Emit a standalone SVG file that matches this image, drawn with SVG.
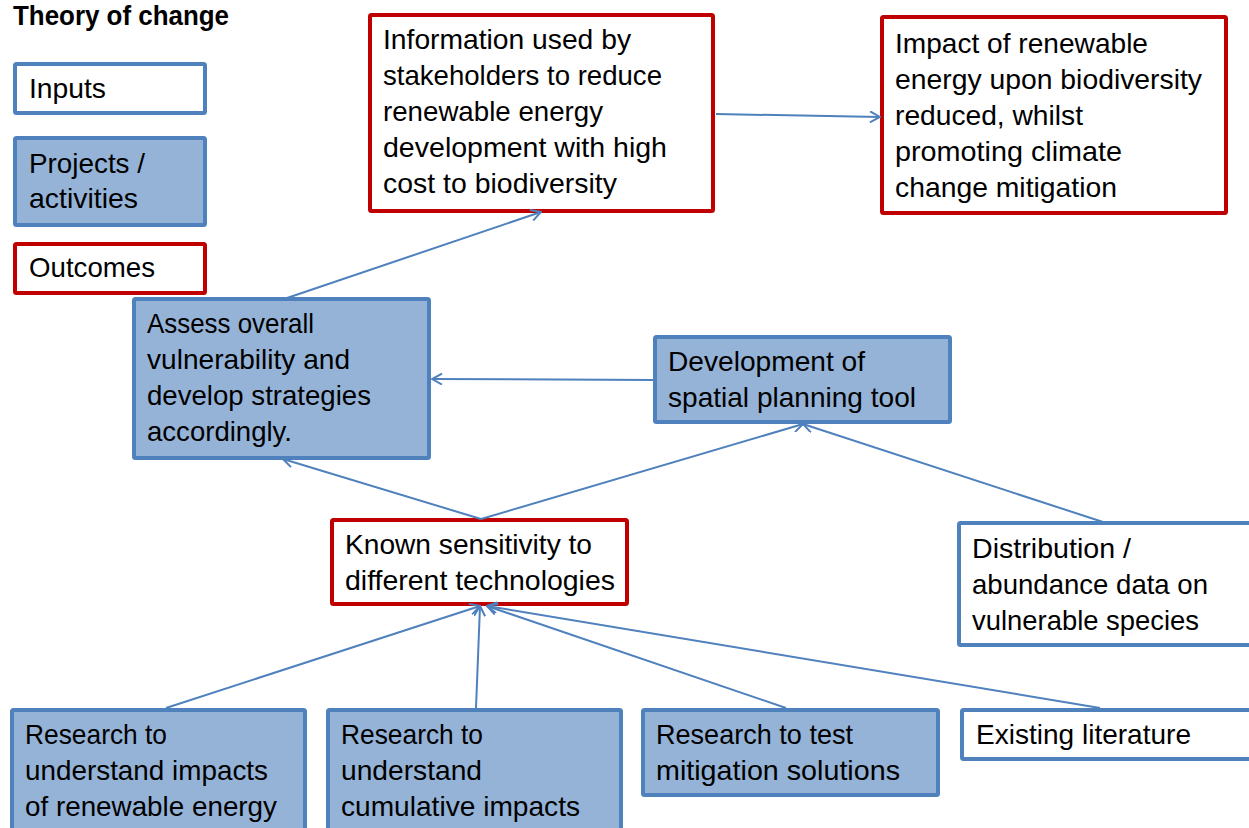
<svg xmlns="http://www.w3.org/2000/svg" width="1249" height="828" viewBox="0 0 1249 828">
<style>
.t{font-family:"Liberation Sans",Arial,sans-serif;font-size:28px;fill:#000}
.title{font-family:"Liberation Sans",Arial,sans-serif;font-size:27px;font-weight:bold;fill:#000}
.in{fill:#fff;stroke:#4F81BD;stroke-width:4}
.act{fill:#95B3D7;stroke:#4F81BD;stroke-width:4}
.out{fill:#fff;stroke:#C00000;stroke-width:4}
.c{fill:none;stroke:#4F81BD;stroke-width:2}
</style>
<defs>
<marker id="ah" viewBox="0 0 12 12" refX="11" refY="6" markerWidth="12" markerHeight="12" markerUnits="userSpaceOnUse" orient="auto">
<path d="M1,0.5 L11,6 L1,11.5" fill="none" stroke="#4F81BD" stroke-width="2"/>
</marker>
</defs>
<rect width="1249" height="828" fill="#fff"/>
<text class="title" x="13" y="25" textLength="216" lengthAdjust="spacingAndGlyphs">Theory of change</text>

<g id="legend-inputs">
<rect class="in" x="15" y="64" width="190" height="49" rx="1.5"/>
<text class="t" x="29" y="98" textLength="77" lengthAdjust="spacingAndGlyphs">Inputs</text>
</g>
<g id="legend-activities">
<rect class="act" x="15" y="138" width="190" height="87" rx="1.5"/>
<text class="t" x="29" y="173" textLength="116" lengthAdjust="spacingAndGlyphs">Projects /</text>
<text class="t" x="29" y="208" textLength="109" lengthAdjust="spacingAndGlyphs">activities</text>
</g>
<g id="legend-outcomes">
<rect class="out" x="15" y="244" width="190" height="49" rx="1.5"/>
<text class="t" x="29" y="277" textLength="126" lengthAdjust="spacingAndGlyphs">Outcomes</text>
</g>

<g id="info">
<rect class="out" x="370" y="15" width="343" height="196" rx="1.5"/>
<text class="t" x="383" y="49" textLength="248" lengthAdjust="spacingAndGlyphs">Information used by</text>
<text class="t" x="383" y="85" textLength="279" lengthAdjust="spacingAndGlyphs">stakeholders to reduce</text>
<text class="t" x="383" y="121" textLength="220" lengthAdjust="spacingAndGlyphs">renewable energy</text>
<text class="t" x="383" y="157" textLength="284" lengthAdjust="spacingAndGlyphs">development with high</text>
<text class="t" x="383" y="193" textLength="234" lengthAdjust="spacingAndGlyphs">cost to biodiversity</text>
</g>

<g id="impact">
<rect class="out" x="882" y="17" width="344" height="196" rx="1.5"/>
<text class="t" x="895" y="53" textLength="253" lengthAdjust="spacingAndGlyphs">Impact of renewable</text>
<text class="t" x="895" y="89" textLength="307" lengthAdjust="spacingAndGlyphs">energy upon biodiversity</text>
<text class="t" x="895" y="125" textLength="188" lengthAdjust="spacingAndGlyphs">reduced, whilst</text>
<text class="t" x="895" y="161" textLength="227" lengthAdjust="spacingAndGlyphs">promoting climate</text>
<text class="t" x="895" y="197" textLength="222" lengthAdjust="spacingAndGlyphs">change mitigation</text>
</g>

<g id="assess">
<rect class="act" x="134" y="299" width="295" height="159" rx="1.5"/>
<text class="t" x="147" y="333" textLength="167" lengthAdjust="spacingAndGlyphs">Assess overall</text>
<text class="t" x="147" y="369" textLength="203" lengthAdjust="spacingAndGlyphs">vulnerability and</text>
<text class="t" x="147" y="405" textLength="224" lengthAdjust="spacingAndGlyphs">develop strategies</text>
<text class="t" x="147" y="441" textLength="145" lengthAdjust="spacingAndGlyphs">accordingly.</text>
</g>

<g id="development">
<rect class="act" x="655" y="337" width="295" height="85" rx="1.5"/>
<text class="t" x="668" y="371" textLength="197" lengthAdjust="spacingAndGlyphs">Development of</text>
<text class="t" x="668" y="407" textLength="248" lengthAdjust="spacingAndGlyphs">spatial planning tool</text>
</g>

<g id="known">
<rect class="out" x="332" y="520" width="295" height="84" rx="1.5"/>
<text class="t" x="345" y="554" textLength="247" lengthAdjust="spacingAndGlyphs">Known sensitivity to</text>
<text class="t" x="345" y="590" textLength="270" lengthAdjust="spacingAndGlyphs">different technologies</text>
</g>

<g id="distribution">
<rect class="in" x="959" y="523" width="300" height="122" rx="1.5"/>
<text class="t" x="972" y="558" textLength="159" lengthAdjust="spacingAndGlyphs">Distribution /</text>
<text class="t" x="972" y="594" textLength="236" lengthAdjust="spacingAndGlyphs">abundance data on</text>
<text class="t" x="972" y="630" textLength="227" lengthAdjust="spacingAndGlyphs">vulnerable species</text>
</g>

<g id="research-impacts">
<rect class="act" x="12" y="710" width="293" height="130" rx="1.5"/>
<text class="t" x="25" y="744" textLength="142" lengthAdjust="spacingAndGlyphs">Research to</text>
<text class="t" x="25" y="780" textLength="243" lengthAdjust="spacingAndGlyphs">understand impacts</text>
<text class="t" x="25" y="816" textLength="252" lengthAdjust="spacingAndGlyphs">of renewable energy</text>
</g>

<g id="research-cumulative">
<rect class="act" x="328" y="710" width="293" height="130" rx="1.5"/>
<text class="t" x="341" y="744" textLength="142" lengthAdjust="spacingAndGlyphs">Research to</text>
<text class="t" x="341" y="780" textLength="141" lengthAdjust="spacingAndGlyphs">understand</text>
<text class="t" x="341" y="816" textLength="239" lengthAdjust="spacingAndGlyphs">cumulative impacts</text>
</g>

<g id="research-mitigation">
<rect class="act" x="643" y="710" width="295" height="85" rx="1.5"/>
<text class="t" x="656" y="744" textLength="197" lengthAdjust="spacingAndGlyphs">Research to test</text>
<text class="t" x="656" y="780" textLength="244" lengthAdjust="spacingAndGlyphs">mitigation solutions</text>
</g>

<g id="literature">
<rect class="in" x="962" y="710" width="300" height="49" rx="1.5"/>
<text class="t" x="976" y="744" textLength="215" lengthAdjust="spacingAndGlyphs">Existing literature</text>
</g>

<g id="connectors">
<line class="c" x1="716" y1="114" x2="880" y2="117" marker-end="url(#ah)"/>
<line class="c" x1="287" y1="298" x2="541" y2="212" marker-end="url(#ah)"/>
<line class="c" x1="654" y1="380" x2="432" y2="379" marker-end="url(#ah)"/>
<line class="c" x1="481" y1="519" x2="283" y2="459" marker-end="url(#ah)"/>
<line class="c" x1="481" y1="519" x2="803" y2="424" marker-end="url(#ah)"/>
<line class="c" x1="1103" y1="522" x2="803" y2="424" marker-end="url(#ah)"/>
<line class="c" x1="166" y1="708" x2="480" y2="606" marker-end="url(#ah)"/>
<line class="c" x1="476" y1="708" x2="480" y2="606" marker-end="url(#ah)"/>
<line class="c" x1="786" y1="708" x2="487" y2="606" marker-end="url(#ah)"/>
<line class="c" x1="1100" y1="708" x2="487" y2="606" marker-end="url(#ah)"/>
</g>
</svg>
